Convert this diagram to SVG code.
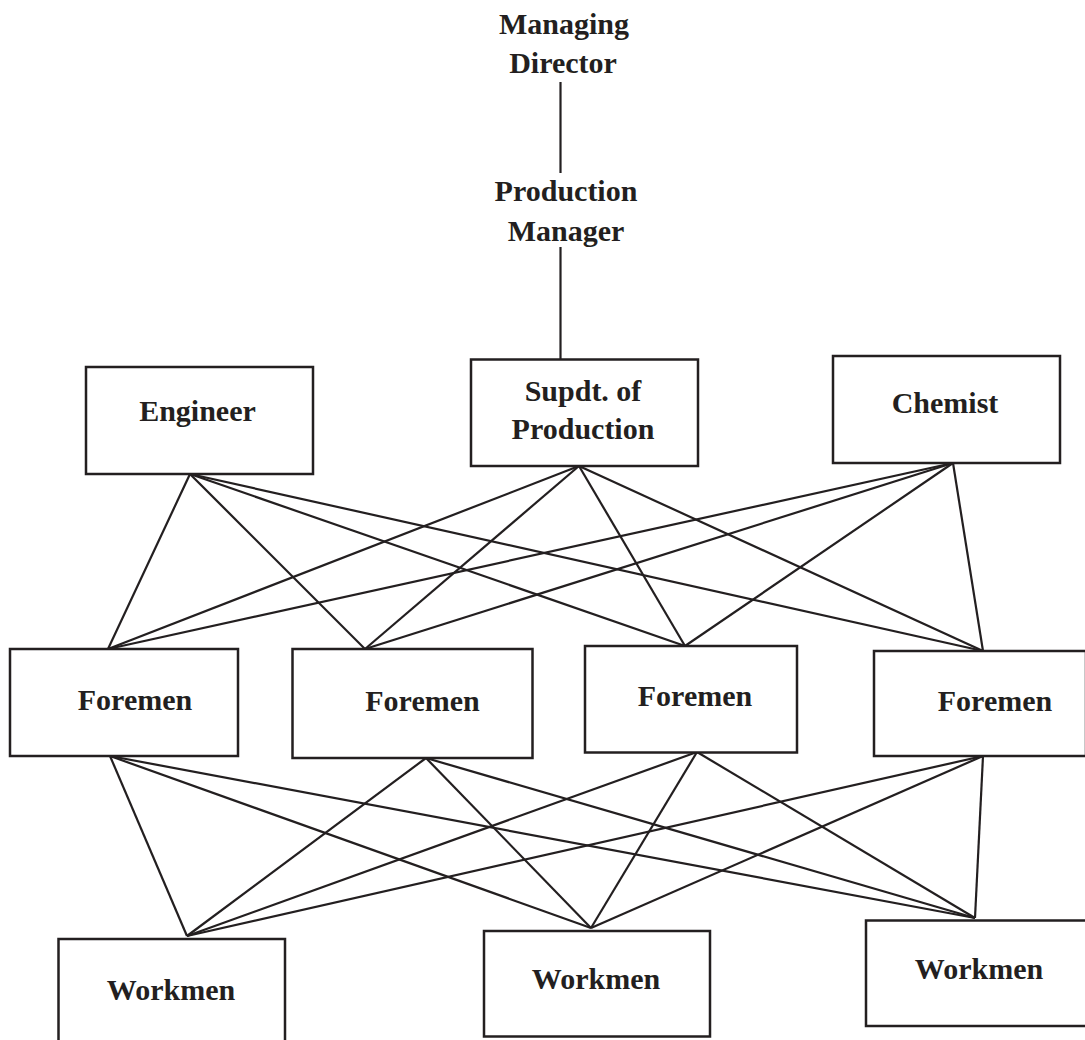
<svg xmlns="http://www.w3.org/2000/svg" width="1085" height="1040" viewBox="0 0 1085 1040">
<style>
.box{fill:#fff;stroke:#231f20;stroke-width:2.5}
.lbl{font-family:"Liberation Serif","Times New Roman",serif;font-weight:bold;font-size:30px;fill:#231f20;text-anchor:middle}
.ln{stroke:#231f20;stroke-width:2.2;fill:none}
</style>
<rect width="1085" height="1040" fill="#fff"/>
<g id="connectors">
<line class="ln" x1="560.5" y1="82" x2="560.5" y2="173"/>
<line class="ln" x1="560.5" y1="247" x2="560.5" y2="359"/>
<line class="ln" x1="190" y1="474" x2="108" y2="649"/>
<line class="ln" x1="190" y1="474" x2="365" y2="649"/>
<line class="ln" x1="190" y1="474" x2="685" y2="646"/>
<line class="ln" x1="190" y1="474" x2="983" y2="651"/>
<line class="ln" x1="579" y1="466" x2="108" y2="649"/>
<line class="ln" x1="579" y1="466" x2="365" y2="649"/>
<line class="ln" x1="579" y1="466" x2="685" y2="646"/>
<line class="ln" x1="579" y1="466" x2="983" y2="651"/>
<line class="ln" x1="953" y1="463" x2="108" y2="649"/>
<line class="ln" x1="953" y1="463" x2="365" y2="649"/>
<line class="ln" x1="953" y1="463" x2="685" y2="646"/>
<line class="ln" x1="953" y1="463" x2="983" y2="651"/>
<line class="ln" x1="110" y1="756" x2="187" y2="936"/>
<line class="ln" x1="110" y1="756" x2="591" y2="928"/>
<line class="ln" x1="110" y1="756" x2="975" y2="918"/>
<line class="ln" x1="426" y1="758" x2="187" y2="936"/>
<line class="ln" x1="426" y1="758" x2="591" y2="928"/>
<line class="ln" x1="426" y1="758" x2="975" y2="918"/>
<line class="ln" x1="697" y1="752" x2="187" y2="936"/>
<line class="ln" x1="697" y1="752" x2="591" y2="928"/>
<line class="ln" x1="697" y1="752" x2="975" y2="918"/>
<line class="ln" x1="983" y1="756" x2="187" y2="936"/>
<line class="ln" x1="983" y1="756" x2="591" y2="928"/>
<line class="ln" x1="983" y1="756" x2="975" y2="918"/>
</g>
<g id="managing-director">
<text class="lbl" x="564" y="34">Managing</text>
<text class="lbl" x="563" y="73">Director</text>
</g>
<g id="production-manager">
<text class="lbl" x="566" y="201">Production</text>
<text class="lbl" x="566" y="241">Manager</text>
</g>
<g id="engineer">
<rect class="box" x="86" y="367" width="227" height="107"/>
<text class="lbl" x="197.5" y="421">Engineer</text>
</g>
<g id="supdt">
<rect class="box" x="471" y="359.5" width="227" height="106.5"/>
<text class="lbl" x="583" y="401">Supdt. of</text>
<text class="lbl" x="583" y="439">Production</text>
</g>
<g id="chemist">
<rect class="box" x="833" y="356" width="227" height="107"/>
<text class="lbl" x="945" y="413">Chemist</text>
</g>
<g id="foremen1">
<rect class="box" x="10" y="649" width="228" height="107"/>
<text class="lbl" x="135" y="710">Foremen</text>
</g>
<g id="foremen2">
<rect class="box" x="292.5" y="649" width="240" height="109"/>
<text class="lbl" x="422.5" y="711">Foremen</text>
</g>
<g id="foremen3">
<rect class="box" x="585" y="646" width="212" height="106.5"/>
<text class="lbl" x="695" y="706">Foremen</text>
</g>
<g id="foremen4">
<rect class="box" x="874" y="651" width="212" height="105"/>
<text class="lbl" x="995" y="711">Foremen</text>
</g>
<g id="workmen1">
<rect class="box" x="58.5" y="939" width="226.5" height="110"/>
<text class="lbl" x="171" y="1000">Workmen</text>
</g>
<g id="workmen2">
<rect class="box" x="484" y="931" width="226" height="105.5"/>
<text class="lbl" x="596" y="989">Workmen</text>
</g>
<g id="workmen3">
<rect class="box" x="866" y="920.5" width="222" height="105.5"/>
<text class="lbl" x="979" y="979">Workmen</text>
</g>
</svg>
